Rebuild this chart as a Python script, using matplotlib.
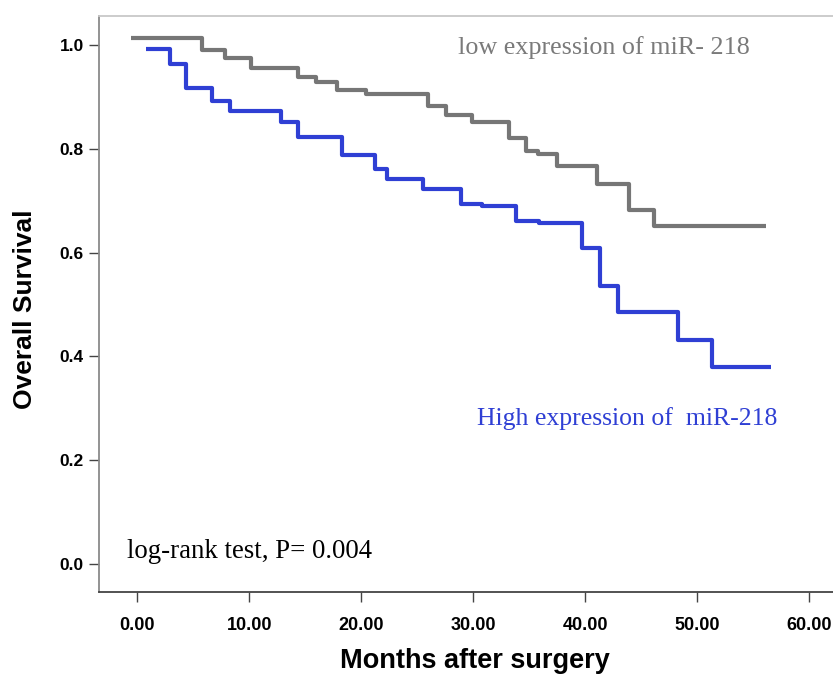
import matplotlib.pyplot as plt

# Kaplan-Meier steps (months, survival)
low_t = [-0.5, 5.8, 7.8, 10.2, 14.4, 16.0, 17.8, 20.4, 26.0, 27.6, 29.9,
         33.2, 34.7, 35.8, 37.5, 41.0, 43.9, 46.1, 56.1]
low_s = [1.013, 0.990, 0.976, 0.955, 0.938, 0.929, 0.913, 0.905, 0.882, 0.865, 0.852,
         0.820, 0.795, 0.791, 0.767, 0.733, 0.682, 0.651, 0.651]

high_t = [0.8, 2.9, 4.4, 6.7, 8.3, 12.8, 14.4, 18.3, 21.2, 22.3, 25.5,
          28.9, 30.8, 33.8, 35.9, 39.7, 41.3, 42.9, 48.3, 51.3, 56.6]
high_s = [0.992, 0.963, 0.918, 0.893, 0.873, 0.852, 0.823, 0.789, 0.762, 0.742, 0.722,
          0.694, 0.689, 0.661, 0.658, 0.608, 0.536, 0.486, 0.432, 0.380, 0.380]

xticks = [0, 10, 20, 30, 40, 50, 60]
yticks = [0.0, 0.2, 0.4, 0.6, 0.8, 1.0]

GRAY = '#767676'
BLUE = '#2f3fd4'

fig = plt.figure(figsize=(8.33, 6.78), dpi=100)
ax = fig.add_axes([99 / 833, 1 - 592 / 678, 1 - 99 / 833, (592 - 16) / 678])

ax.step(low_t, low_s, where='post', color=GRAY, lw=3, solid_capstyle='butt')
ax.step(high_t, high_s, where='post', color=BLUE, lw=3, solid_capstyle='butt')

ax.set_xlim(-3.4, 62.1)
ax.set_ylim(-0.054, 1.056)

ax.set_xticks(xticks)
ax.set_xticklabels([f'{v:.2f}' for v in xticks])
ax.set_yticks(yticks)
ax.set_yticklabels([f'{v:.1f}' for v in yticks])

sans = 'Liberation Sans'
serif = 'Liberation Serif'
for lab in ax.get_xticklabels():
    lab.set_family(sans)
    lab.set_fontweight('bold')
    lab.set_fontsize(13)
for lab in ax.get_yticklabels():
    lab.set_family(sans)
    lab.set_fontweight('bold')
    lab.set_fontsize(12.5)

ax.tick_params(axis='x', direction='out', length=7, width=1, color='#444444', pad=11)
ax.tick_params(axis='y', direction='out', length=7, width=1, color='#444444', pad=4)

ax.spines['right'].set_visible(False)
ax.spines['top'].set_color('#c8c8c8')
ax.spines['left'].set_color('#8a8a8a')
ax.spines['bottom'].set_color('#444444')
for s in ['top', 'left', 'bottom']:
    ax.spines[s].set_linewidth(1.3)

ax.set_xlabel('Months after surgery', family=sans, fontweight='bold', fontsize=19.5)
ax.set_ylabel('Overall Survival', family=sans, fontweight='bold', fontsize=19)
ax.xaxis.set_label_coords(0.512, -0.097)
ax.yaxis.set_label_coords(-0.084, 0.491)

ax.text(28.66, 0.996, 'low expression of miR- 218', family=serif, fontsize=18.8,
        color='#7a7a7a', ha='left', va='center')
ax.text(30.36, 0.281, 'High expression of  miR-218', family=serif, fontsize=18.5,
        color=BLUE, ha='left', va='center')
ax.text(-0.89, 0.025, 'log-rank test, P= 0.004', family=serif, fontsize=19.3,
        color='black', ha='left', va='center')

fig.savefig('out.png', dpi=100)
